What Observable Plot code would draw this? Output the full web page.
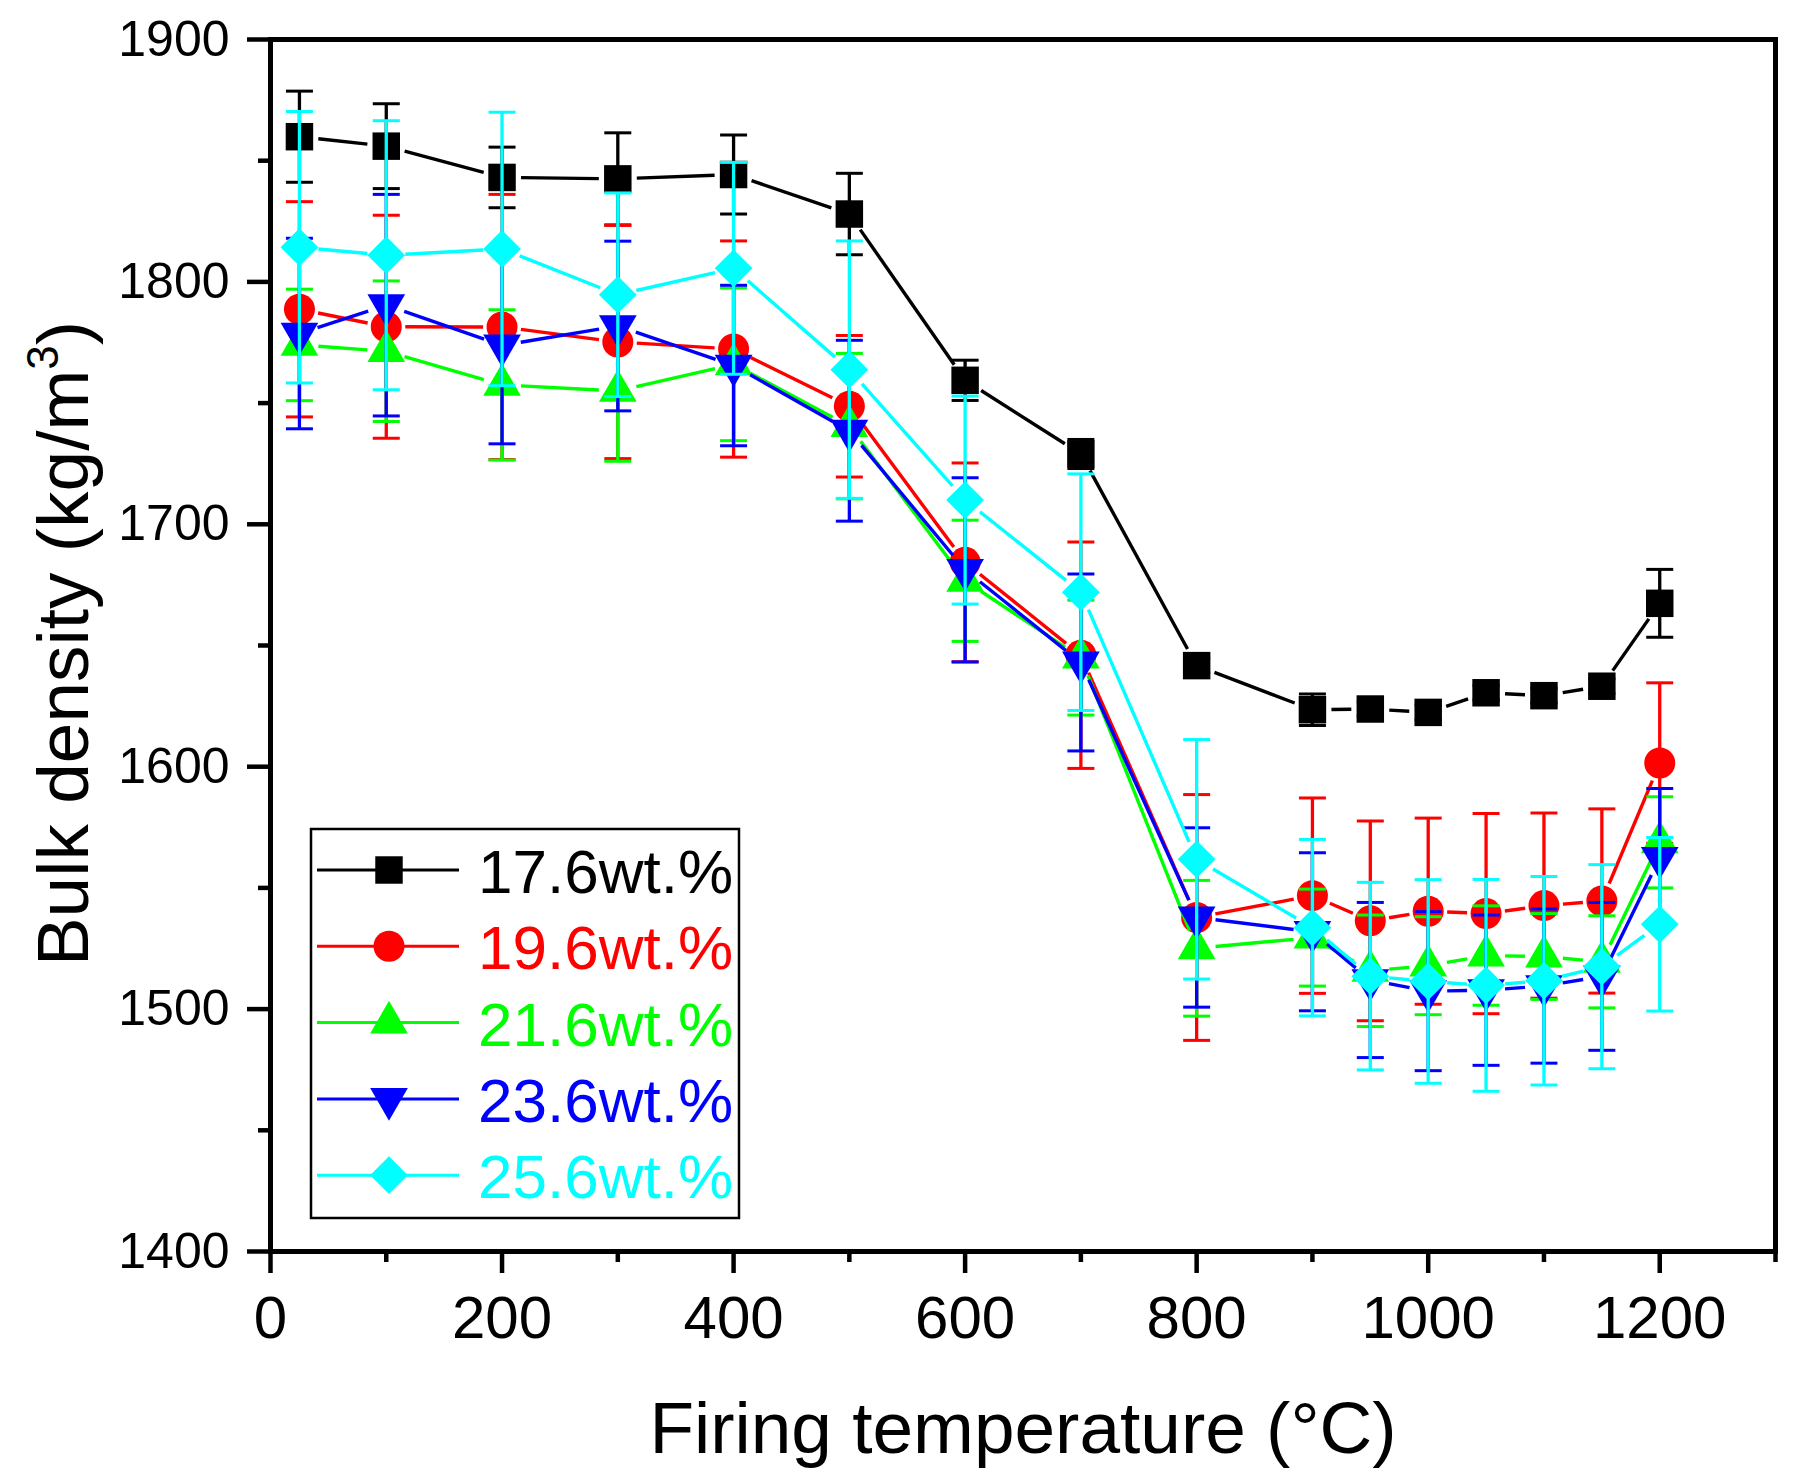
<!DOCTYPE html>
<html>
<head>
<meta charset="utf-8">
<script src="https://cdn.jsdelivr.net/npm/d3@7"></script>
<script src="https://cdn.jsdelivr.net/npm/@observablehq/plot@0.6"></script>
<style>
  html, body { margin: 0; padding: 0; background: #fff; }
  svg { display: block; }
</style>
</head>
<body>
<div id="chart"></div>
<script>
// ---------- data ----------
const temperatures = [25, 100, 200, 300, 400, 500, 600, 700, 800, 900, 950, 1000, 1050, 1100, 1150, 1200];

const seriesNames = ["17.6wt.%", "19.6wt.%", "21.6wt.%", "23.6wt.%", "25.6wt.%"];

const density176 = [1859.9, 1856, 1843.1, 1842.5, 1844.3, 1828, 1759.4, 1729, 1641.7, 1623.5, 1623.8, 1622.4, 1630.5, 1629.3, 1633.2, 1667.4];
const error176   = [18.8, 17.5, 12.5, 19, 16.3, 16.8, 8.3, 6, 3, 6.5, 3, 3, 3, 3, 3, 14];

const density196 = [1788.7, 1781.5, 1781.4, 1775.2, 1772.3, 1748.7, 1684.3, 1646, 1537.8, 1546.8, 1536.4, 1540.4, 1539.4, 1542.7, 1544.6, 1601.5];
const error196   = [44.4, 46, 54.7, 48.1, 44.6, 29.2, 41, 46.7, 50.7, 40.3, 41.2, 38.4, 41.3, 38.2, 38, 33.1];

const density216 = [1774, 1771.4, 1757.5, 1755, 1766, 1740.5, 1676.7, 1645, 1525.1, 1529.5, 1515.8, 1517.9, 1522.1, 1521.7, 1519.5, 1568.8];
const error216   = [23, 29, 31, 29, 31.5, 30, 25, 23.7, 28, 20, 23, 20.2, 20.5, 17.7, 19, 18.8];

const density236 = [1778.7, 1790.4, 1773.8, 1781.8, 1765.5, 1738.6, 1681.2, 1643, 1537.8, 1531.9, 1512, 1507.4, 1507.8, 1509.5, 1513.5, 1562.4];
const error236   = [39.3, 45.7, 40.6, 35, 33.1, 37.3, 38, 36.5, 37, 32.6, 32, 32.8, 31, 31.8, 30.5, 28.6];

const density256 = [1814.3, 1811, 1813.6, 1794.7, 1805.6, 1763.8, 1710, 1672, 1561.8, 1533.6, 1513.6, 1511.4, 1509.8, 1511.7, 1517.5, 1535];
const error256   = [56, 55.5, 56.4, 42, 43.7, 53.1, 42.9, 48.8, 49.4, 36.4, 38.7, 42, 43.7, 43, 42.1, 35.8];

const xMajorTicks = [0, 200, 400, 600, 800, 1000, 1200];
const xMinorTicks = [100, 300, 500, 700, 900, 1100, 1300];
const yMajorTicks = [1400, 1500, 1600, 1700, 1800, 1900];
const yMinorTicks = [1450, 1550, 1650, 1750, 1850];

const xTitle = "Firing temperature (°C)";
const yTitle = "Bulk density (kg/m";
const yTitleSup = "3";
const yTitleEnd = ")";

// ---------- styles ----------
const colors = ["#000000", "#ff0000", "#00ff00", "#0000ff", "#00ffff"];
const symbols = ["square", "circle", "triangle", "triangle", "diamond2"];
const rotations = [0, 0, 0, 180, 0];
const radii = [15.5, 15.5, 14, 14, 17];
const FONT = "'Liberation Sans', Arial, Helvetica, sans-serif";

const densityLists = [density176, density196, density216, density236, density256];
const errorLists = [error176, error196, error216, error236, error256];

const capSymbol = {
  draw(context) {
    context.moveTo(-13.5, 0);
    context.lineTo(13.5, 0);
  }
};

const series = seriesNames.map((name, i) => {
  const points = temperatures.map((t, j) => ({x: t, y: densityLists[i][j], e: errorLists[i][j]}));
  const segments = points.slice(1).map((p, j) => ({x1: points[j].x, y1: points[j].y, x2: p.x, y2: p.y}));
  return {name, color: colors[i], symbol: symbols[i], rotate: rotations[i], r: radii[i], points, segments};
});

const seriesMarks = series.flatMap(s => [
  Plot.arrow(s.segments, {
    x1: "x1", y1: "y1", x2: "x2", y2: "y2",
    stroke: s.color, strokeWidth: 3.4, headLength: 0,
    insetStart: 19, insetEnd: 19, strokeLinecap: "butt"
  }),
  Plot.ruleX(s.points, {x: "x", y1: d => d.y - d.e, y2: d => d.y + d.e, stroke: s.color, strokeWidth: 3.3}),
  Plot.dot(s.points, {x: "x", y: d => d.y + d.e, symbol: capSymbol, r: 10, stroke: s.color, strokeWidth: 3, fill: "none"}),
  Plot.dot(s.points, {x: "x", y: d => d.y - d.e, symbol: capSymbol, r: 10, stroke: s.color, strokeWidth: 3, fill: "none"}),
  Plot.dot(s.points, {x: "x", y: "y", symbol: s.symbol, r: s.r, fill: s.color, stroke: "none", rotate: s.rotate})
]);

const chart = Plot.plot({
  width: 1799,
  height: 1484,
  marginLeft: 270,
  marginRight: 24,
  marginTop: 39,
  marginBottom: 233,
  style: {fontFamily: FONT, background: "white", color: "black"},
  x: {domain: [0, 1300]},
  y: {domain: [1400, 1900]},
  marks: [
    Plot.axisX({ticks: xMajorTicks, tickSize: 22, tickPadding: 22, fontSize: 60, strokeWidth: 4.5, tickFormat: d => String(d), label: null}),
    Plot.axisX({ticks: xMinorTicks, tickSize: 11, strokeWidth: 4.5, tickFormat: () => "", label: null}),
    Plot.axisY({ticks: yMajorTicks, tickSize: 23, tickPadding: 18, fontSize: 50, strokeWidth: 4.5, tickFormat: d => String(d), label: null}),
    Plot.axisY({ticks: yMinorTicks, tickSize: 12, strokeWidth: 4.5, tickFormat: () => "", label: null}),
    ...seriesMarks,
    Plot.frame({strokeWidth: 5, stroke: "black"}),
    Plot.text([xTitle], {frameAnchor: "bottom", textAnchor: "middle", dy: 201, lineAnchor: "bottom", fontSize: 73, fill: "black"}),
    Plot.text([yTitle], {frameAnchor: "left", textAnchor: "middle", rotate: -90, dx: -183, dy: -2, lineAnchor: "bottom", fontSize: 73, fill: "black"})
  ]
});

document.getElementById("chart").appendChild(chart);

// superscript in the y title
const yText = Array.from(chart.querySelectorAll("text")).find(t => t.textContent === yTitle);
if (yText) {
  d3.select(yText).append("tspan").attr("font-size", 44).attr("dy", -30).text(yTitleSup);
  d3.select(yText).append("tspan").attr("font-size", 73).attr("dy", 30).text(yTitleEnd);
}

// legend
const svg = d3.select(chart);
const lg = svg.append("g").attr("font-family", FONT).attr("text-anchor", "start");
lg.append("rect")
  .attr("x", 311).attr("y", 829).attr("width", 428).attr("height", 389)
  .attr("fill", "none").attr("stroke", "black").attr("stroke-width", 2.5);
const d3Symbols = {square: d3.symbolSquare, circle: d3.symbolCircle, triangle: d3.symbolTriangle, diamond2: d3.symbolDiamond2};
series.forEach((s, i) => {
  const cy = 870 + i * 76.3;
  lg.append("line")
    .attr("x1", 317).attr("x2", 459).attr("y1", cy).attr("y2", cy)
    .attr("stroke", s.color).attr("stroke-width", 3);
  lg.append("path")
    .attr("d", d3.symbol(d3Symbols[s.symbol], Math.PI * s.r * s.r)())
    .attr("transform", `translate(389,${cy}) rotate(${s.rotate})`)
    .attr("fill", s.color);
  lg.append("text")
    .attr("x", 478).attr("y", cy + 23)
    .attr("text-anchor", "start")
    .attr("font-size", 62).attr("fill", s.color)
    .text(s.name);
});
</script>
</body>
</html>
